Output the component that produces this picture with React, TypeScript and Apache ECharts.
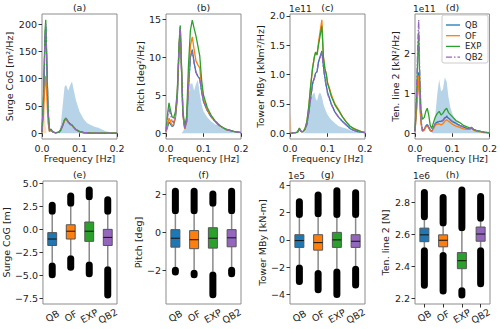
import React, { useEffect, useRef } from 'react';
import * as echarts from 'echarts';

const LABELS = ['QB', 'OF', 'EXP', 'QB2'];
const COLORS = ['#1f77b4', '#ff7f0e', '#2ca02c', '#9467bd'];

// (a) Surge CoG spectra
const FA = [0, 0.004, 0.008, 0.01, 0.012, 0.016, 0.02, 0.024, 0.028, 0.035, 0.045, 0.05, 0.055, 0.06, 0.064, 0.07, 0.075, 0.08, 0.085, 0.09, 0.1, 0.11, 0.12, 0.13, 0.14, 0.15, 0.16, 0.17, 0.18, 0.19, 0.2];
const A_QB = [2, 60, 170, 195, 150, 40, 4, 7, 3, 1, 2, 6, 14, 24, 27, 21, 17, 15, 11, 7, 3, 1.5, 1, 0.6, 0.4, 0.3, 0.2, 0.1, 0.1, 0.1, 0.1];
const A_OF = [2, 35, 92, 105, 80, 20, 3, 6, 3, 1, 2, 6, 14, 23, 26, 20, 16, 14, 10, 6.5, 3, 1.5, 1, 0.6, 0.4, 0.3, 0.2, 0.1, 0.1, 0.1, 0.1];
const A_EXP = [2, 70, 185, 208, 155, 45, 5, 8, 3, 1, 2, 6, 15, 25, 28, 21, 17, 15, 11, 7, 3, 1.5, 1, 0.6, 0.4, 0.3, 0.2, 0.1, 0.1, 0.1, 0.1];
const A_QB2 = [2, 62, 175, 200, 152, 42, 4, 7, 3, 1, 2, 6, 14, 24, 27, 21, 17, 15, 11, 7, 3, 1.5, 1, 0.6, 0.4, 0.3, 0.2, 0.1, 0.1, 0.1, 0.1];
const A_WAVE = [0, 0, 0, 0, 0, 0, 0, 0, 0, 0, 2, 15, 50, 85, 89, 78, 88, 95, 78, 62, 40, 27, 19, 15, 12, 10, 7, 4, 2.5, 1.5, 1];
const A_WIND_F = [0, 0.004, 0.008, 0.012];
const A_WIND = [40, 70, 25, 0];

// (b) Pitch spectra
const FB = [0, 0.004, 0.008, 0.012, 0.016, 0.02, 0.025, 0.03, 0.035, 0.038, 0.041, 0.045, 0.05, 0.055, 0.06, 0.065, 0.07, 0.075, 0.08, 0.085, 0.09, 0.095, 0.1, 0.11, 0.12, 0.13, 0.14, 0.15, 0.16, 0.18, 0.2];
const B_QB = [0.2, 0.8, 1.5, 1.2, 0.9, 1.0, 2.0, 4.5, 11, 13.5, 9, 2.5, 0.6, 1.5, 6, 10, 11, 9.3, 8, 7.5, 7.2, 5.5, 4.2, 3, 2.2, 1.6, 1.1, 0.8, 0.5, 0.25, 0.1];
const B_OF = [0.2, 1.0, 2.0, 1.6, 1.0, 1.2, 2.2, 5, 11.5, 14, 9, 2.5, 0.6, 1.6, 7, 11.5, 12.7, 11, 9.5, 9, 8.6, 6, 4.5, 3.1, 2.3, 1.6, 1.1, 0.8, 0.5, 0.25, 0.1];
const B_EXP = [0.5, 2.5, 4.0, 3.0, 2.2, 2.0, 2.8, 5.5, 12, 14.2, 9.5, 3, 0.9, 2.2, 9, 13.5, 14.9, 13.8, 12.8, 11.5, 10.2, 7, 5, 3.4, 2.4, 1.7, 1.2, 0.8, 0.55, 0.25, 0.1];
const B_QB2 = [0.3, 2.0, 3.3, 2.5, 1.6, 1.4, 2.3, 5, 11.5, 14, 9, 2.5, 0.6, 1.5, 6, 10, 10.8, 9.2, 8, 7.5, 7.2, 5.5, 4.2, 3, 2.2, 1.6, 1.1, 0.8, 0.5, 0.25, 0.1];
const B_WAVE = [0, 0, 0, 0, 0, 0, 0, 0, 0, 0, 0, 0.2, 0.8, 2, 5, 6.5, 6.6, 5.6, 6.5, 7, 5.2, 3.8, 2.9, 2.1, 1.6, 1.2, 1, 0.8, 0.6, 0.2, 0.1];

// (c) Tower MBy spectra (x1e11)
const FC = [0, 0.005, 0.01, 0.015, 0.02, 0.025, 0.03, 0.035, 0.04, 0.045, 0.05, 0.055, 0.06, 0.065, 0.068, 0.072, 0.076, 0.08, 0.085, 0.089, 0.093, 0.097, 0.1, 0.105, 0.11, 0.12, 0.13, 0.14, 0.15, 0.16, 0.17, 0.18, 0.19, 0.2];
const C_QB = [0, 0, 0.01, 0.01, 0.02, 0.07, 0.03, 0.03, 0.06, 0.15, 0.35, 0.6, 0.85, 0.95, 1.02, 1.05, 1.22, 1.3, 1.4, 1.15, 0.95, 0.8, 0.7, 0.6, 0.5, 0.36, 0.27, 0.2, 0.14, 0.08, 0.05, 0.03, 0.02, 0.01];
const C_OF = [0, 0, 0.01, 0.01, 0.02, 0.08, 0.03, 0.03, 0.08, 0.2, 0.45, 0.8, 1.1, 1.3, 1.36, 1.33, 1.55, 1.72, 1.93, 1.3, 1.1, 1.0, 0.87, 0.77, 0.66, 0.5, 0.4, 0.28, 0.2, 0.12, 0.08, 0.06, 0.03, 0.01];
const C_EXP = [0, 0, 0.01, 0.01, 0.02, 0.09, 0.03, 0.03, 0.08, 0.2, 0.45, 0.8, 1.1, 1.3, 1.38, 1.34, 1.5, 1.65, 1.83, 1.3, 1.1, 1.0, 0.85, 0.75, 0.63, 0.48, 0.38, 0.28, 0.19, 0.12, 0.08, 0.05, 0.03, 0.01];
const C_QB2 = [0, 0, 0.01, 0.01, 0.02, 0.07, 0.03, 0.03, 0.06, 0.15, 0.35, 0.58, 0.82, 0.93, 1.0, 1.05, 1.2, 1.28, 1.38, 1.12, 0.93, 0.78, 0.68, 0.58, 0.5, 0.36, 0.27, 0.2, 0.14, 0.08, 0.05, 0.03, 0.02, 0.01];
const C_WAVE = [0, 0, 0, 0, 0, 0, 0, 0, 0.02, 0.1, 0.35, 0.6, 0.65, 0.7, 0.6, 0.55, 0.65, 0.7, 0.62, 0.5, 0.42, 0.36, 0.32, 0.27, 0.23, 0.17, 0.12, 0.1, 0.08, 0.05, 0.03, 0.02, 0.01, 0];
const C_WIND_F = [0, 0.003, 0.006];
const C_WIND = [0.35, 0.15, 0];

// (d) Ten. line 2 spectra (x1e11)
const FD = [0, 0.004, 0.008, 0.01, 0.012, 0.016, 0.02, 0.025, 0.029, 0.033, 0.037, 0.041, 0.045, 0.05, 0.055, 0.06, 0.065, 0.07, 0.075, 0.08, 0.085, 0.09, 0.095, 0.1, 0.11, 0.12, 0.13, 0.14, 0.148, 0.152, 0.157, 0.165, 0.175, 0.185, 0.2];
const D_QB = [0.05, 0.6, 1.3, 1.53, 1.0, 0.3, 0.06, 0.1, 0.18, 0.22, 0.15, 0.08, 0.05, 0.15, 0.25, 0.28, 0.3, 0.3, 0.32, 0.38, 0.42, 0.38, 0.33, 0.3, 0.25, 0.2, 0.16, 0.12, 0.12, 0.15, 0.1, 0.07, 0.05, 0.03, 0.01];
const D_OF = [0.05, 0.55, 1.2, 1.45, 0.9, 0.25, 0.05, 0.08, 0.15, 0.19, 0.13, 0.06, 0.04, 0.12, 0.21, 0.23, 0.24, 0.21, 0.24, 0.3, 0.34, 0.3, 0.27, 0.23, 0.18, 0.15, 0.11, 0.1, 0.1, 0.12, 0.08, 0.05, 0.04, 0.02, 0.01];
const D_EXP = [0.05, 0.9, 2.1, 2.52, 1.6, 0.6, 0.35, 0.4, 0.55, 0.63, 0.45, 0.2, 0.12, 0.28, 0.42, 0.5, 0.55, 0.46, 0.5, 0.58, 0.63, 0.52, 0.47, 0.42, 0.32, 0.27, 0.2, 0.16, 0.13, 0.13, 0.1, 0.07, 0.05, 0.03, 0.02];
const D_QB2 = [0.05, 1.0, 2.4, 2.84, 1.8, 0.35, 0.07, 0.1, 0.18, 0.22, 0.15, 0.08, 0.05, 0.15, 0.25, 0.28, 0.3, 0.3, 0.33, 0.4, 0.44, 0.4, 0.34, 0.3, 0.25, 0.2, 0.16, 0.12, 0.12, 0.15, 0.1, 0.07, 0.05, 0.03, 0.01];
const D_WAVE = [0, 0, 0, 0, 0, 0, 0, 0, 0, 0, 0, 0, 0, 0.1, 0.5, 1.0, 1.35, 1.05, 1.1, 1.4, 1.3, 0.9, 0.65, 0.5, 0.3, 0.2, 0.15, 0.12, 0.1, 0.08, 0.07, 0.05, 0.03, 0.02, 0];

// Box statistics per category: [min outlier, whisker low, Q1, median, Q3, whisker high, max outlier]
const E_SURGE = [
  [-5.3, -3.6, -1.75, -1.05, -0.35, 1.6, 3.0],
  [-4.5, -2.8, -1.05, -0.2, 0.5, 2.45, 4.0],
  [-5.2, -3.5, -1.3, -0.2, 0.8, 3.15, 4.65],
  [-7.5, -4.0, -1.75, -0.87, 0.0, 1.6, 3.6],
];
const F_PITCH = [
  [-2.25, -1.8, -0.77, -0.3, 0.15, 0.95, 2.35],
  [-2.4, -1.95, -0.85, -0.38, 0.1, 0.95, 2.35],
  [-3.45, -2.05, -0.82, -0.3, 0.25, 1.35, 2.2],
  [-2.35, -1.8, -0.75, -0.28, 0.15, 0.95, 2.35],
];
const G_TOWER = [
  [-3.3, -1.8, -0.55, -0.05, 0.38, 1.6, 3.05],
  [-3.9, -2.2, -0.75, -0.2, 0.38, 1.65, 3.55],
  [-4.25, -2.1, -0.55, 0.0, 0.55, 1.6, 3.85],
  [-3.55, -1.9, -0.55, -0.1, 0.38, 1.6, 3.7],
];
const H_TENSION = [
  [2.26, 2.52, 2.555, 2.598, 2.64, 2.69, 2.885],
  [2.224, 2.49, 2.523, 2.564, 2.598, 2.65, 2.854],
  [2.2, 2.27, 2.386, 2.436, 2.487, 2.62, 2.9],
  [2.27, 2.52, 2.558, 2.603, 2.647, 2.68, 2.86],
];

const TOP_TICKS = [[0, 50, 100, 150, 200], [0, 5, 10, 15], [0, 0.5, 1.0, 1.5, 2.0], [0, 1, 2]];
const BOT_TICKS = [[-7.5, -5, -2.5, 0, 2.5, 5], [-2, 0, 2], [-4, -2, 0, 2, 4], [2.2, 2.4, 2.6, 2.8]];
const TOP_NAMES = ['Surge CoG [m²/Hz]', 'Pitch [deg²/Hz]', 'Tower MBy [kNm²/Hz]', 'Ten. line 2 [kN²/Hz]'];
const BOT_NAMES = ['Surge CoG [m]', 'Pitch [deg]', 'Tower MBy [kN-m]', 'Ten. line 2 [N]'];
const TOP_TITLES = ['(a)', '(b)', '(c)', '(d)'];
const BOT_TITLES = ['(e)', '(f)', '(g)', '(h)'];
const FREQ_TICKS = [0, 0.1, 0.2];

const LEFTS = [42, 166, 290, 415];
const PW = 75;
const FONT = 'DejaVu Sans';
const DASHDOT = [6, 2, 1.5, 2];

const zip = (f: number[], v: number[]) => f.map((x, i) => [x, v[i]]);
const fmt = (dec: number) => (v: number) => {
  const s = Math.abs(v).toFixed(dec);
  return v < -1e-9 ? '\u2212' + s : s;
};

export default function App() {
  const ref = useRef<HTMLDivElement>(null);
  useEffect(() => {
    const chart = echarts.init(ref.current!, null, { renderer: 'svg' });

    const top = [
      { f: FA, lines: [A_QB, A_OF, A_EXP, A_QB2], wave: A_WAVE, windF: A_WIND_F, wind: A_WIND, min: -10.4, max: 218.4, dec: 0, gap: 25 },
      { f: FB, lines: [B_QB, B_OF, B_EXP, B_QB2], wave: B_WAVE, windF: null, wind: null, min: -0.75, max: 15.7, dec: 0, gap: 21 },
      { f: FC, lines: [C_QB, C_OF, C_EXP, C_QB2], wave: C_WAVE, windF: C_WIND_F, wind: C_WIND, min: -0.097, max: 2.03, dec: 1, gap: 20 },
      { f: FD, lines: [D_QB, D_OF, D_EXP, D_QB2], wave: D_WAVE, windF: null, wind: null, min: -0.142, max: 2.99, dec: 0, gap: 11 },
    ];
    const bot = [
      { box: E_SURGE, min: -8.1, max: 5.25, dec: 1, gap: 26 },
      { box: F_PITCH, min: -3.75, max: 2.7, dec: 0, gap: 19 },
      { box: G_TOWER, min: -4.69, max: 4.31, dec: 0, gap: 18 },
      { box: H_TENSION, min: 2.165, max: 2.935, dec: 1, gap: 18 },
    ];

    const grid: any[] = [];
    const xAxis: any[] = [];
    const yAxis: any[] = [];
    const series: any[] = [];
    const graphic: any[] = [];

    const axisCommon = {
      axisLine: { show: false },
      splitLine: { show: false },
      axisTick: { show: true, length: 3.5, lineStyle: { color: '#333', width: 1 } },
    };
    const labelStyle = { color: '#222', fontSize: 9.5, fontFamily: FONT };
    const nameStyle = { color: '#222', fontSize: 9.5, fontFamily: FONT };

    top.forEach((p, i) => {
      grid.push({ left: LEFTS[i], top: 14, width: PW, height: 125, show: true, borderColor: '#8c8c8c', borderWidth: 1, backgroundColor: 'transparent' });
      xAxis.push({
        type: 'value', gridIndex: i, min: 0, max: 0.2, ...axisCommon,
        axisLabel: { ...labelStyle, margin: 4, customValues: FREQ_TICKS, formatter: (v: number) => v.toFixed(1) },
        axisTick: { ...axisCommon.axisTick, customValues: FREQ_TICKS },
        name: 'Frequency [Hz]', nameLocation: 'middle', nameGap: 14, nameTextStyle: nameStyle,
      });
      yAxis.push({
        type: 'value', gridIndex: i, min: p.min, max: p.max, ...axisCommon,
        axisLabel: { ...labelStyle, margin: 5, customValues: TOP_TICKS[i], formatter: fmt(p.dec) },
        axisTick: { ...axisCommon.axisTick, customValues: TOP_TICKS[i] },
        name: TOP_NAMES[i], nameLocation: 'middle', nameGap: p.gap, nameRotate: 90, nameTextStyle: nameStyle,
      });
      series.push({
        type: 'line', name: 'wave', xAxisIndex: i, yAxisIndex: i, data: zip(p.f, p.wave), symbol: 'none', silent: true,
        lineStyle: { width: 0 }, areaStyle: { color: 'rgba(31,119,180,0.32)', opacity: 1 }, z: 1,
      });
      if (p.windF && p.wind) {
        series.push({
          type: 'line', name: 'wind', xAxisIndex: i, yAxisIndex: i, data: zip(p.windF, p.wind), symbol: 'none', silent: true,
          lineStyle: { width: 0 }, areaStyle: { color: 'rgba(255,127,14,0.28)', opacity: 1 }, z: 1,
        });
      }
      p.lines.forEach((vals, k) => {
        series.push({
          type: 'line', name: LABELS[k], xAxisIndex: i, yAxisIndex: i, data: zip(p.f, vals), symbol: 'none',
          color: COLORS[k],
          lineStyle: { width: 1.3, color: COLORS[k], type: k === 3 ? DASHDOT : 'solid' },
          z: 2 + k,
        });
      });
      graphic.push({ type: 'text', x: LEFTS[i] + PW / 2, y: 7, style: { text: TOP_TITLES[i], align: 'center', verticalAlign: 'middle', fontSize: 9.5, fontFamily: FONT, fill: '#222' } });
    });

    bot.forEach((p, j) => {
      const i = j + 4;
      grid.push({ left: LEFTS[j], top: 181, width: PW, height: 123, show: true, borderColor: '#8c8c8c', borderWidth: 1, backgroundColor: 'transparent' });
      xAxis.push({
        type: 'category', gridIndex: i, data: LABELS, boundaryGap: true, ...axisCommon,
        axisTick: { ...axisCommon.axisTick, alignWithLabel: true },
        axisLabel: { ...labelStyle, interval: 0, rotate: 30, align: 'center', verticalAlign: 'middle', margin: 12 },
      });
      yAxis.push({
        type: 'value', gridIndex: i, min: p.min, max: p.max, ...axisCommon,
        axisLabel: { ...labelStyle, margin: 5, customValues: BOT_TICKS[j], formatter: fmt(p.dec) },
        axisTick: { ...axisCommon.axisTick, customValues: BOT_TICKS[j] },
        name: BOT_NAMES[j], nameLocation: 'middle', nameGap: p.gap, nameRotate: 90, nameTextStyle: nameStyle,
      });
      series.push({
        type: 'custom', xAxisIndex: i, yAxisIndex: i, silent: true,
        data: p.box.map((s, c) => [c, ...s]),
        encode: { x: 0, y: [1, 2, 3, 4, 5, 6, 7] },
        renderItem: (params: any, api: any) => {
          const c = api.value(0);
          const pt = (v: number) => api.coord([c, v]);
          const cx = pt(api.value(4))[0];
          const band = api.size([1, 0])[0];
          const bw = band * 0.48;
          const ow = 7;
          const yMin = pt(api.value(1))[1];
          const yWlo = pt(api.value(2))[1];
          const yQ1 = pt(api.value(3))[1];
          const yMed = pt(api.value(4))[1];
          const yQ3 = pt(api.value(5))[1];
          const yWhi = pt(api.value(6))[1];
          const yMax = pt(api.value(7))[1];
          const wh = { stroke: '#8a8a8a', lineWidth: 1.5 };
          return {
            type: 'group',
            children: [
              { type: 'line', shape: { x1: cx, y1: yWlo, x2: cx, y2: yQ1 }, style: wh },
              { type: 'line', shape: { x1: cx, y1: yQ3, x2: cx, y2: yWhi }, style: wh },
              { type: 'rect', shape: { x: cx - ow / 2, y: yWlo, width: ow, height: yMin - yWlo, r: ow / 2 }, style: { fill: '#000' } },
              { type: 'rect', shape: { x: cx - ow / 2, y: yMax, width: ow, height: yWhi - yMax, r: ow / 2 }, style: { fill: '#000' } },
              { type: 'rect', shape: { x: cx - bw / 2, y: yQ3, width: bw, height: yQ1 - yQ3 }, style: { fill: COLORS[c], stroke: '#555', lineWidth: 1 } },
              { type: 'line', shape: { x1: cx - bw / 2, y1: yMed, x2: cx + bw / 2, y2: yMed }, style: { stroke: '#111', lineWidth: 1 } },
            ],
          };
        },
      });
      graphic.push({ type: 'text', x: LEFTS[j] + PW / 2, y: 174, style: { text: BOT_TITLES[j], align: 'center', verticalAlign: 'middle', fontSize: 9.5, fontFamily: FONT, fill: '#222' } });
    });

    const offs = [
      { t: '1e11', x: 289, y: 9 },
      { t: '1e11', x: 413, y: 9 },
      { t: '1e5', x: 288, y: 176 },
      { t: '1e6', x: 413, y: 176 },
    ];
    offs.forEach((o) => graphic.push({ type: 'text', x: o.x, y: o.y, style: { text: o.t, align: 'left', verticalAlign: 'middle', fontSize: 9, fontFamily: FONT, fill: '#222' } }));

    // legend drawn inside panel (d)
    graphic.push({ type: 'rect', shape: { x: 442, y: 15, width: 46, height: 48, r: 2 }, style: { fill: 'rgba(255,255,255,0.85)', stroke: '#cccccc', lineWidth: 1 }, z: 50 });
    LABELS.forEach((lab, k) => {
      const y = 25 + k * 10.7;
      graphic.push({ type: 'line', shape: { x1: 446, y1: y, x2: 460, y2: y }, style: { stroke: COLORS[k], lineWidth: 1.3, lineDash: k === 3 ? DASHDOT : null }, z: 51 });
      graphic.push({ type: 'text', x: 465, y, style: { text: lab, align: 'left', verticalAlign: 'middle', fontSize: 8.5, fontFamily: FONT, fill: '#222' }, z: 51 });
    });

    chart.setOption({
      animation: false,
      textStyle: { fontFamily: FONT },
      grid, xAxis, yAxis, series, graphic,
    });
    return () => chart.dispose();
  }, []);
  return <div ref={ref} style={{ position: 'absolute', left: 0, top: 0, width: 500, height: 329 }} />;
}
